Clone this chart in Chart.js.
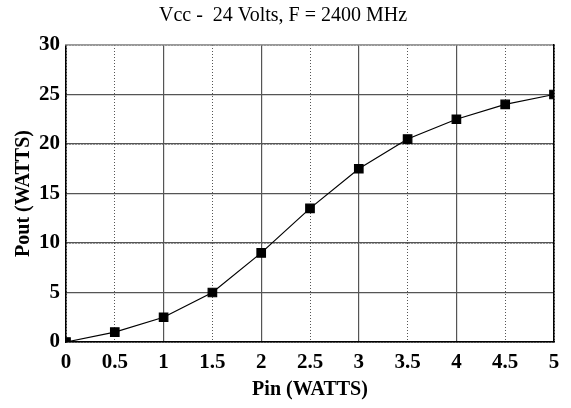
<!DOCTYPE html>
<html>
<head>
<meta charset="utf-8">
<script src="https://cdn.jsdelivr.net/npm/chart.js@4/dist/chart.umd.min.js"></script>
<style>
  html, body { margin: 0; padding: 0; background: #fff; }
  #wrap { width: 571px; height: 408px; }
</style>
</head>
<body>
<div id="wrap"><canvas id="chart"></canvas></div>
<script>
// Données
const pinWatts = [0, 0.5, 1, 1.5, 2, 2.5, 3, 3.5, 4, 4.5, 5];
const poutWatts = [0, 1, 2.5, 5, 9, 13.5, 17.5, 20.5, 22.5, 24, 25];
const chartTitle = 'Vcc -  24 Volts, F = 2400 MHz';
const xTitle = 'Pin (WATTS)';
const yTitle = 'Pout (WATTS)';

const serif = "'Liberation Serif', 'Times New Roman', serif";

const points = pinWatts.map((x, i) => ({ x: x, y: poutWatts[i] }));

new Chart(document.getElementById('chart'), {
    type: 'line',
    data: {
        datasets: [{
            data: points,
            xAxisID: 'x',
            yAxisID: 'y',
            borderColor: '#000',
            borderWidth: 1.2,
            backgroundColor: '#000',
            pointStyle: 'rect',
            pointRadius: 6,
            pointHoverRadius: 6,
            tension: 0
        }]
    },
    options: {
        responsive: true,
        maintainAspectRatio: false,
        animation: false,
        layout: { padding: { left: 12, right: 17, top: 0, bottom: 6 } },
        plugins: {
            legend: { display: false },
            tooltip: { enabled: false },
            title: {
                display: true,
                text: chartTitle,
                color: '#000',
                font: { family: serif, size: 20, weight: 'normal' },
                padding: { top: 4, bottom: 17 }
            }
        },
        scales: {
            x: {
                type: 'linear',
                min: 0, max: 5,
                afterFit: s => { s.height = 60; },
                ticks: {
                    stepSize: 0.5,
                    color: '#000',
                    font: { family: serif, size: 21, weight: 'bold' },
                    padding: 8,
                    callback: v => String(v)
                },
                // lignes pointillées aux demi-valeurs
                grid: { color: '#555', lineWidth: 1, drawTicks: false },
                border: { display: true, color: '#000', width: 1.5, dash: [1, 2] },
                title: {
                    display: true,
                    text: xTitle,
                    color: '#000',
                    font: { family: serif, size: 20, weight: 'bold' },
                    padding: { top: 0, bottom: 0 }
                }
            },
            y: {
                type: 'linear',
                min: 0, max: 30,
                afterFit: s => { s.width = 54; },
                ticks: {
                    stepSize: 2.5,
                    color: '#000',
                    font: { family: serif, size: 21, weight: 'bold' },
                    padding: 6,
                    callback: v => (v % 5 === 0 ? String(v) : '')
                },
                grid: { color: '#555', lineWidth: 1, drawTicks: false },
                border: { display: true, color: '#000', width: 1.5, dash: [1, 2] },
                title: {
                    display: true,
                    text: yTitle,
                    color: '#000',
                    font: { family: serif, size: 20, weight: 'bold' },
                    padding: { top: 0, bottom: 0 }
                }
            },
            // axes secondaires pour les lignes pleines
            x2: {
                type: 'linear',
                position: 'top',
                min: 0, max: 5,
                afterFit: s => { s.height = 0; },
                ticks: { display: false, stepSize: 1 },
                grid: { color: '#555', lineWidth: 1.2, drawTicks: false },
                border: { display: true, color: '#999', width: 1.5 }
            },
            y2: {
                type: 'linear',
                position: 'right',
                min: 0, max: 30,
                afterFit: s => { s.width = 0; },
                ticks: { display: false, stepSize: 5 },
                grid: { color: '#555', lineWidth: 1.2, drawTicks: false },
                border: { display: true, color: '#000', width: 1.5 }
            }
        }
    }
});
</script>
</body>
</html>
